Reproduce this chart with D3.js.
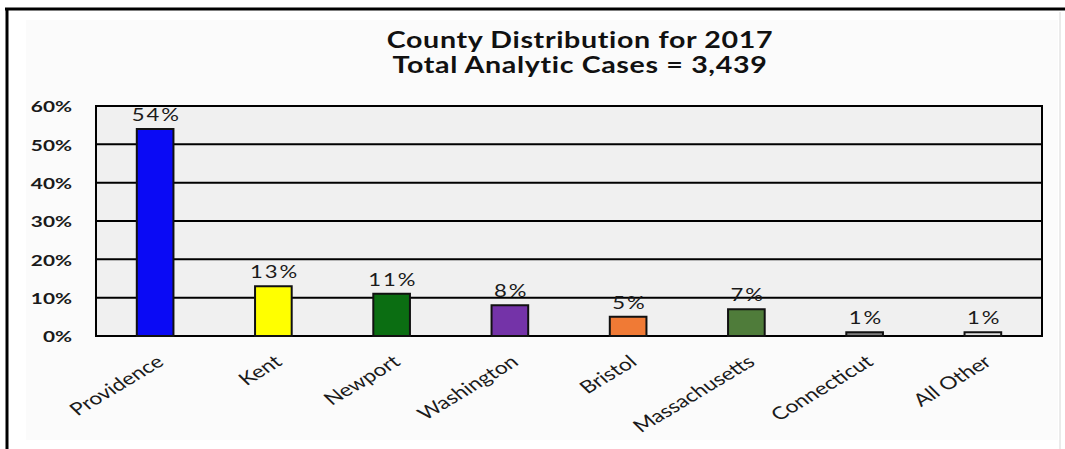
<!DOCTYPE html>
<html>
<head>
<meta charset="utf-8">
<script src="https://cdn.jsdelivr.net/npm/d3@7/dist/d3.min.js"></script>
<style>
  html, body { margin: 0; padding: 0; background: #ffffff; }
  svg { display: block; }
</style>
</head>
<body>
<div id="chart"></div>
<script>
// County distribution of analytic cases, 2017
const categories = ["Providence", "Kent", "Newport", "Washington", "Bristol", "Massachusetts", "Connecticut", "All Other"];
const shares = [54, 13, 11, 8, 5, 7, 1, 1];
const barColors = ["#0a0af5", "#ffff00", "#0b6e12", "#7433a8", "#f07a35", "#4f7c3a", "#7f7f7f", "#e2e2e2"];
const yTicks = [0, 10, 20, 30, 40, 50, 60];
const titleLines = ["County Distribution for 2017", "Total Analytic Cases = 3,439"];

const width = 1065, height = 449;
// The chart is drawn in a narrower frame and widened horizontally, like the
// stretched spreadsheet export it reproduces.
const S = 1.3;
const sx = v => v / S;

const svg = d3.select("#chart").append("svg")
  .attr("width", width)
  .attr("height", height)
  .attr("viewBox", `0 0 ${width / S} ${height}`)
  .attr("preserveAspectRatio", "none");

const plot = { left: 96, right: 1042, top: 106, bottom: 336 };

// outer frame
svg.append("rect")
  .attr("x", sx(26)).attr("y", 20)
  .attr("width", sx(1058 - 26)).attr("height", 420)
  .attr("fill", "#fbfbfb");
svg.append("line")
  .attr("x1", sx(5)).attr("x2", sx(1065)).attr("y1", 9).attr("y2", 9)
  .attr("stroke", "#000").attr("stroke-width", 3)
  .attr("vector-effect", "non-scaling-stroke");
svg.append("line")
  .attr("x1", sx(7)).attr("x2", sx(7)).attr("y1", 8).attr("y2", height)
  .attr("stroke", "#000").attr("stroke-width", 3)
  .attr("vector-effect", "non-scaling-stroke");
svg.append("line")
  .attr("x1", sx(1060)).attr("x2", sx(1060)).attr("y1", 12).attr("y2", height)
  .attr("stroke", "#d6d6d6").attr("stroke-width", 1)
  .attr("vector-effect", "non-scaling-stroke");

const x = d3.scaleBand()
  .domain(categories)
  .range([sx(plot.left), sx(plot.right)])
  .paddingInner(0.69)
  .paddingOuter(0.345);

const y = d3.scaleLinear()
  .domain([0, 60])
  .range([plot.bottom, plot.top]);

// plot background
svg.append("rect")
  .attr("x", sx(plot.left)).attr("y", plot.top)
  .attr("width", sx(plot.right - plot.left)).attr("height", plot.bottom - plot.top)
  .attr("fill", "#f0f0f0");

// horizontal gridlines
svg.append("g")
  .selectAll("line")
  .data(yTicks)
  .join("line")
  .attr("x1", sx(plot.left)).attr("x2", sx(plot.right))
  .attr("y1", d => y(d)).attr("y2", d => y(d))
  .attr("stroke", "#000").attr("stroke-width", 2)
  .attr("vector-effect", "non-scaling-stroke");

// plot border
svg.append("rect")
  .attr("x", sx(plot.left)).attr("y", plot.top)
  .attr("width", sx(plot.right - plot.left)).attr("height", plot.bottom - plot.top)
  .attr("fill", "none")
  .attr("stroke", "#000").attr("stroke-width", 2)
  .attr("vector-effect", "non-scaling-stroke");

// y axis labels
const yAxis = d3.axisLeft(y)
  .tickValues(yTicks)
  .tickSize(0)
  .tickPadding(0)
  .tickFormat(d => d + "%");
svg.append("g")
  .attr("transform", `translate(${sx(72)},0)`)
  .call(yAxis)
  .call(g => g.select(".domain").remove())
  .call(g => g.selectAll("text")
    .attr("font-family", "Lato, 'Open Sans', sans-serif")
    .attr("font-weight", "bold")
    .attr("font-size", 16)
    .attr("fill", "#1a1a1a")
    .attr("dy", "0.36em"));

// bars
svg.append("g")
  .selectAll("rect")
  .data(categories)
  .join("rect")
  .attr("x", d => x(d))
  .attr("y", (d, i) => y(shares[i]))
  .attr("width", x.bandwidth())
  .attr("height", (d, i) => y(0) - y(shares[i]))
  .attr("fill", (d, i) => barColors[i])
  .attr("stroke", "#111")
  .attr("stroke-width", 2)
  .attr("vector-effect", "non-scaling-stroke");

// value labels
svg.append("g")
  .selectAll("text")
  .data(categories)
  .join("text")
  .attr("x", d => x(d) + x.bandwidth() / 2 + 1)
  .attr("y", (d, i) => y(shares[i]) - 8)
  .attr("text-anchor", "middle")
  .attr("font-family", "Lato, 'Open Sans', sans-serif")
  .attr("font-size", 17)
  .attr("letter-spacing", 1.5)
  .attr("fill", "#1a1a1a")
  .text((d, i) => shares[i] + "%");

// category labels
svg.append("g")
  .selectAll("text")
  .data(categories)
  .join("text")
  .attr("transform", d => `translate(${x(d) + x.bandwidth() / 2 + sx(10)},364) rotate(-38)`)
  .attr("text-anchor", "end")
  .attr("font-family", "Lato, 'Open Sans', sans-serif")
  .attr("font-size", 17.5)
  .attr("fill", "#1a1a1a")
  .text(d => d);

// title
svg.append("g")
  .selectAll("text")
  .data(titleLines)
  .join("text")
  .attr("x", sx(580))
  .attr("y", (d, i) => 48 + i * 25)
  .attr("text-anchor", "middle")
  .attr("font-family", "Lato, 'Open Sans', sans-serif")
  .attr("font-weight", "bold")
  .attr("font-size", 22)
  .attr("letter-spacing", 0.5)
  .attr("fill", "#111")
  .text(d => d);
</script>
</body>
</html>
